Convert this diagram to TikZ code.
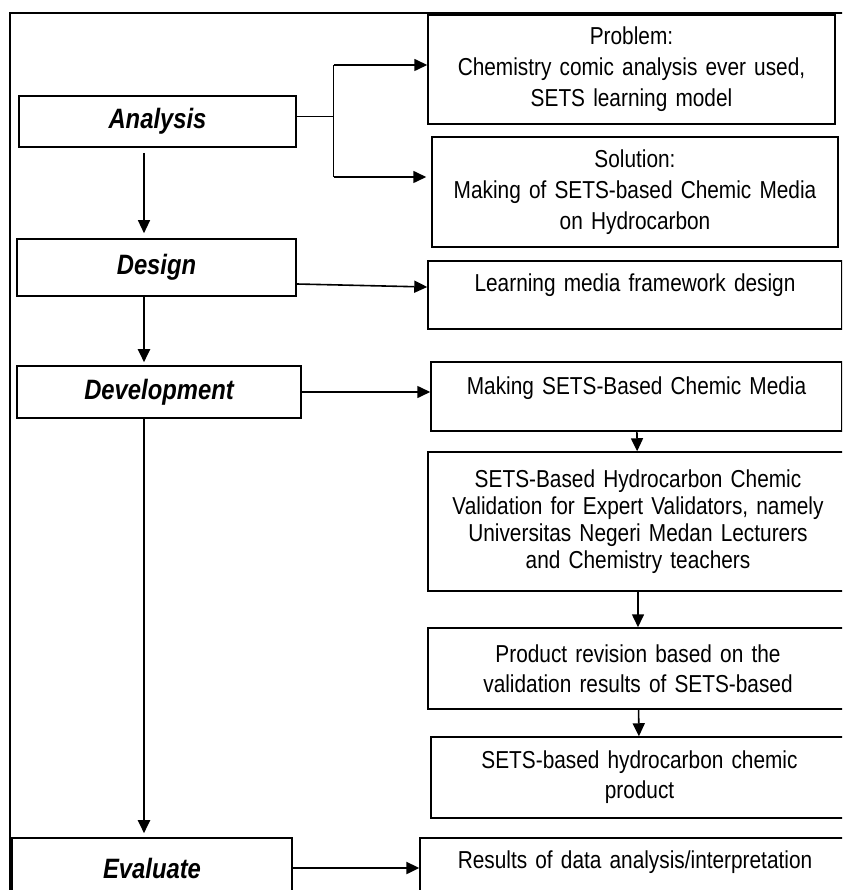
\documentclass[tikz,border=0pt]{standalone}
\usepackage{fontspec}
\setmainfont{Liberation Sans}[FakeStretch=0.85]
\usetikzlibrary{arrows.meta,chains,positioning,scopes}
\tikzset{>={Triangle[length=13pt,width=12pt]},
	every join/.style={->,line width=1.6pt},
	link/.style={->,line width=1.6pt},
	fork/.style={line width=0.8pt},
	stage/.style={draw,line width=1.6pt,inner sep=0pt,
		font=\fontsize{28}{32}\selectfont\bfseries\itshape},
	task/.style={draw,line width=1.5pt,inner sep=0pt,align=center,
		font=\fontsize{24.5}{30}\selectfont}}
\newcommand{\tasklines}[1]{\fontsize{24.5}{#1}\selectfont}

\begin{document}
\begin{tikzpicture}[x=1pt,y=-1pt]
	\useasboundingbox (0,0) rectangle (842,890);
	\clip (0,0) rectangle (842,890);
	% outer frame
	\draw[line width=1.3pt] (10,900) |- (850,13);
	% stages
	\node[stage,minimum width=277pt,minimum height=51pt] (ana) at (157.5,121.5) {Analysis};
	\node[stage,minimum width=279pt,minimum height=57pt] (design) at (156.5,267.5) {Design};
	\node[stage,minimum width=284pt,minimum height=52pt] (devel) at (159,392) {Development};
	\node[stage,minimum width=280pt,minimum height=60pt] (evalu) at (152,868) {Evaluate};
	% tasks
	\node[task,text width=395pt,minimum width=407pt,minimum height=109pt,
		font=\tasklines{31}] (prob) at (631.5,69.5)
		{Problem:\\Chemistry comic analysis ever used,\\SETS learning model};
	\node[task,text width=395pt,minimum width=406pt,minimum height=110pt,
		font=\tasklines{31}] (sol) at (635,192)
		{Solution:\\Making of SETS-based Chemic Media\\on Hydrocarbon};
	\node[task,text width=400pt,minimum width=414pt,minimum height=68pt,
		text depth=25pt] (learn) at (635,295) {Learning media framework design};
	\node[task,text width=400pt,minimum width=411pt,minimum height=69pt,
		text depth=22pt] (make) at (636.5,396.5) {Making SETS-Based Chemic Media};
	\node[task,text width=400pt,minimum width=420pt,minimum height=139pt,
		font=\tasklines{27}] (valid) at (638,521.5)
		{SETS-Based Hydrocarbon Chemic\\Validation for Expert Validators, namely\\
		 Universitas Negeri Medan Lecturers\\and Chemistry teachers};
	\node[task,text width=400pt,minimum width=420pt,minimum height=81pt] (rev) at (638,668.5)
		{Product revision based on the\\validation results of SETS-based};
	\node[task,text width=400pt,minimum width=417pt,minimum height=81pt] (prod) at (639.5,777.5)
		{SETS-based hydrocarbon chemic\\product};
	\node[task,text width=400pt,minimum width=430pt,minimum height=62pt,
		text depth=18pt] (res) at (635,869) {Results of data analysis/interpretation};
	% analysis fork
	\coordinate (probin) at ([yshift=4.5pt]prob.west);
	\coordinate (solin) at ([yshift=15pt]sol.west);
	\draw[fork] ([yshift=5.5pt]ana.east) -- ++(37,0) coordinate (fork);
	\draw[fork] (fork |- probin) -- (fork |- solin);
	\draw[link] (fork |- probin) -- (probin);
	\draw[link,shorten >=5pt] (fork |- solin) -- (solin);
	% stage column
	\draw[link,line width=1.3pt,shorten <=5pt,shorten >=5pt]
		([xshift=-13.5pt]ana.south) -- ([xshift=-13.5pt]ana.south |- design.north);
	\draw[link,line width=2pt,shorten >=3pt]
		([xshift=-12.5pt]design.south) -- ([xshift=-12.5pt]design.south |- devel.north);
	\draw[link,line width=2pt,shorten >=4pt]
		([xshift=-15pt]devel.south) -- ([xshift=-15pt]devel.south |- evalu.north);
	% stage to task
	\draw[link] ([yshift=-16.5pt]design.east) -- ([yshift=8pt]learn.west);
	\draw[link] (devel.east) -- (devel.east -| make.west);
	\draw[link,line width=2.4pt] (evalu.east) -- (evalu.east -| res.west);
	% development steps
	{ [start chain]
		\chainin (make);
		\chainin (valid) [join];
		\chainin (rev) [join];
		\chainin (prod) [join];
	}
\end{tikzpicture}
\end{document}
